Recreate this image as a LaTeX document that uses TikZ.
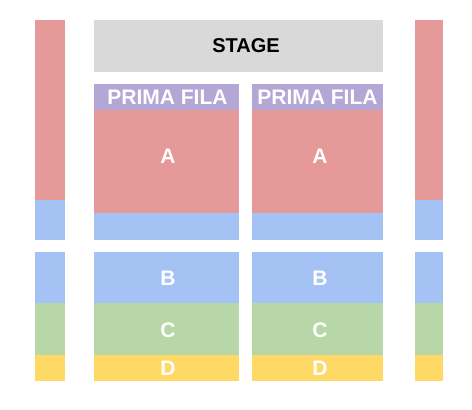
\documentclass[tikz,border=0pt]{standalone}
\usepackage{fontspec}
\setmainfont{Liberation Sans}
\usepackage{xcolor}
\usepackage{tikz}
\definecolor{seatred}{HTML}{E69999}
\definecolor{seatblue}{HTML}{A4C2F4}
\definecolor{seatgreen}{HTML}{B7D7A8}
\definecolor{seatyellow}{HTML}{FFD966}
\definecolor{seatpurple}{HTML}{B4A7D6}
\definecolor{stagegray}{HTML}{D9D9D9}

\begin{document}
\begin{tikzpicture}[x=1pt,y=-1pt,
    lbl/.style={inner sep=0pt, text=white, font=\fontsize{21}{21}\selectfont\bfseries},
    stagelbl/.style={inner sep=0pt, text=black, font=\fontsize{20}{20}\selectfont\bfseries}]
    \useasboundingbox[fill=white] (0,0) rectangle (472,410);

    % side columns
    \fill[seatred] (35,20) rectangle (65,200);
    \fill[seatblue] (35,200) rectangle (65,240);
    \fill[seatblue] (35,252) rectangle (65,303);
    \fill[seatgreen] (35,303) rectangle (65,355);
    \fill[seatyellow] (35,355) rectangle (65,381);

    \fill[seatred] (415,20) rectangle (443,200);
    \fill[seatblue] (415,200) rectangle (443,240);
    \fill[seatblue] (415,252) rectangle (443,303);
    \fill[seatgreen] (415,303) rectangle (443,355);
    \fill[seatyellow] (415,355) rectangle (443,381);

    % stage
    \fill[stagegray] (94,20) rectangle (383,72);
    \node[stagelbl] (stage) at (246,46) {STAGE};

    % left block
    \fill[seatpurple] (94,84) rectangle (239,110);
    \fill[seatred] (94,110) rectangle (239,213);
    \fill[seatblue] (94,213) rectangle (239,240);
    \fill[seatblue] (94,252) rectangle (239,303);
    \fill[seatgreen] (94,303) rectangle (239,355);
    \fill[seatyellow] (94,355) rectangle (239,381);
    \node[lbl] (filaL) at (167.5,97) {PRIMA FILA};
    \node[lbl] (aL) at (168,156) {A};
    \node[lbl] (bL) at (168,278) {B};
    \node[lbl] (cL) at (168,330) {C};
    \node[lbl] (dL) at (168,368) {D};

    % right block
    \fill[seatpurple] (252,84) rectangle (383,110);
    \fill[seatred] (252,110) rectangle (383,213);
    \fill[seatblue] (252,213) rectangle (383,240);
    \fill[seatblue] (252,252) rectangle (383,303);
    \fill[seatgreen] (252,303) rectangle (383,355);
    \fill[seatyellow] (252,355) rectangle (383,381);
    \node[lbl] (filaR) at (317.5,97) {PRIMA FILA};
    \node[lbl] (aR) at (320,156) {A};
    \node[lbl] (bR) at (320,278) {B};
    \node[lbl] (cR) at (320,330) {C};
    \node[lbl] (dR) at (320,368) {D};
  \end{tikzpicture}
\end{document}
